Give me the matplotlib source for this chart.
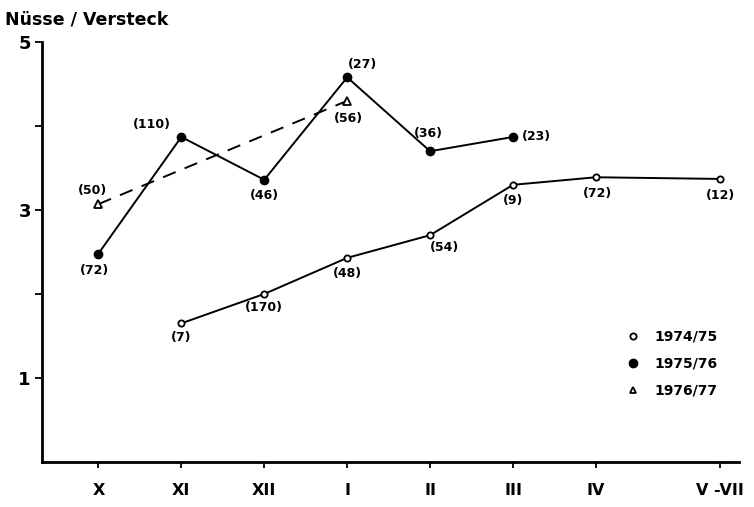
import numpy as np
import matplotlib
matplotlib.use("Agg")
import matplotlib.pyplot as plt
from matplotlib.lines import Line2D

# month groups on the x axis (V-VII spans three months, so it sits further out)
months = ["X", "XI", "XII", "I", "II", "III", "IV", "V -VII"]
month_pos = [0, 1, 2, 3, 4, 5, 6, 7.5]

# nuts per cache, with number of caches in brackets
x_7475 = [1, 2, 3, 4, 5, 6, 7.5]
y_7475 = [1.65, 2.00, 2.43, 2.70, 3.30, 3.39, 3.37]
n_7475 = [7, 170, 48, 54, 9, 72, 12]

x_7576 = [0, 1, 2, 3, 4, 5]
y_7576 = [2.48, 3.87, 3.36, 4.58, 3.70, 3.87]
n_7576 = [72, 110, 46, 27, 36, 23]

x_7677 = [0, 3]
y_7677 = [3.07, 4.30]
n_7677 = [50, 56]

# label offsets in points for each count
off_7475 = [(0, -10), (0, -10), (0, -11), (10, -9), (0, -11), (1, -12), (0, -12)]
off_7576 = [(-3, -12), (-21, 9), (0, -11), (11, 9), (-1, 13), (17, 0)]
off_7677 = [(-4, 10), (1, -13)]

fig = plt.figure(figsize=(7.54, 5.07), dpi=100)
ax = fig.add_axes([0.0557, 0.089, 0.925, 0.828])

ax.plot(x_7475, y_7475, color='black', lw=1.4, marker='o', ms=4.5,
        markerfacecolor='white', markeredgewidth=1.3, zorder=3)
ax.plot(x_7576, y_7576, color='black', lw=1.4, marker='o', ms=6,
        markerfacecolor='black', zorder=3)
ax.plot(x_7677, y_7677, color='black', lw=1.4, ls=(0, (7, 5)), marker='^', ms=5.5,
        markerfacecolor='white', markeredgewidth=1.3, zorder=3)

for xs, ys, ns, offs in [(x_7475, y_7475, n_7475, off_7475),
                         (x_7576, y_7576, n_7576, off_7576),
                         (x_7677, y_7677, n_7677, off_7677)]:
    for xv, yv, nv, (dx, dy) in zip(xs, ys, ns, offs):
        ax.annotate("(%d)" % nv, (xv, yv), xytext=(dx, dy), textcoords='offset points',
                    ha='center', va='center', fontsize=9, fontweight='bold')

ax.set_xlim(-0.68, 7.73)
ax.set_ylim(0, 5)
ax.spines['top'].set_visible(False)
ax.spines['right'].set_visible(False)
ax.spines['left'].set_linewidth(2)
ax.spines['bottom'].set_linewidth(2)

ax.set_xticks(month_pos)
ax.set_xticklabels(months, fontsize=11.5, fontweight='bold')
ax.set_yticks([1, 3, 5])
ax.set_yticks([2, 4], minor=True)
ax.set_yticklabels(['1', '3', '5'], fontsize=13, fontweight='bold')
ax.tick_params(axis='y', which='both', direction='out', length=5, width=1.3, pad=3)
ax.tick_params(axis='x', direction='out', length=4, width=1.3, pad=11)

fig.text(0.007, 0.962, "Nüsse / Versteck", fontsize=12.5, fontweight='bold',
         ha='left', va='center')

handles = [
    Line2D([0], [0], ls='none', marker='o', ms=4.5, color='black',
           markerfacecolor='white', markeredgewidth=1.3, label='1974/75'),
    Line2D([0], [0], ls='none', marker='o', ms=6, color='black', label='1975/76'),
    Line2D([0], [0], ls='none', marker='^', ms=5, color='black',
           markerfacecolor='white', markeredgewidth=1.3, label='1976/77'),
]
ax.legend(handles=handles, loc='upper left', bbox_to_anchor=(0.82, 0.345),
          frameon=False, handlelength=1.0, handletextpad=1.0,
          labelspacing=0.95, prop={'weight': 'bold', 'size': 10})

fig.savefig("out.png", dpi=100)
